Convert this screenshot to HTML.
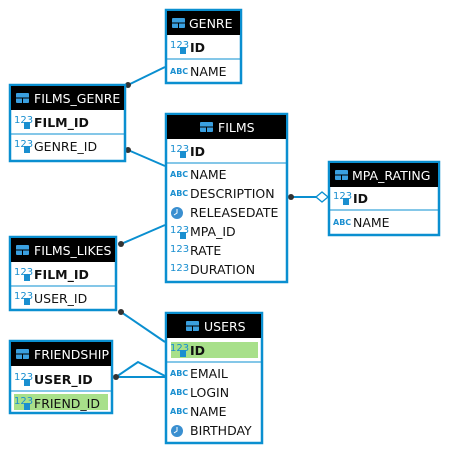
<!DOCTYPE html>
<html><head><meta charset="utf-8"><style>
html,body{margin:0;padding:0;background:#fff;}
svg{display:block;}
text{font-family:"DejaVu Sans","Liberation Sans",sans-serif;}
.t{font-size:12.5px;fill:#111;}
.b{font-weight:bold;}
.h{font-size:12.5px;fill:#fff;}
.n{font-size:10px;fill:#1a8fd0;}
.a{font-size:8px;fill:#1a8fd0;font-weight:bold;}
</style></head><body>
<svg width="450" height="454" viewBox="0 0 450 454" xmlns="http://www.w3.org/2000/svg">
<g stroke="#0a8fd0" stroke-width="2" fill="none">
<line x1="128" y1="85" x2="165" y2="67"/>
<line x1="128" y1="150" x2="165" y2="166"/>
<line x1="291" y1="197" x2="316" y2="197"/>
<line x1="121" y1="244" x2="165" y2="225"/>
<line x1="121" y1="312" x2="165" y2="342"/>
<polyline points="116,377 138,362 165,376"/>
<line x1="116" y1="377" x2="165" y2="377"/>
</g>
<polygon points="316,197 322,192 328,197 322,202" fill="#fff" stroke="#0a8fd0" stroke-width="1.3"/>
<g fill="#333">
<circle cx="128" cy="85" r="3"/><circle cx="128" cy="150" r="3"/><circle cx="291" cy="197" r="3"/>
<circle cx="121" cy="244" r="3"/><circle cx="121" cy="312" r="3"/><circle cx="116" cy="377" r="3"/>
</g>

<!-- GENRE -->
<rect x="166" y="10" width="75" height="73" fill="#fff" stroke="#0a8fd0" stroke-width="2.5"/>
<rect x="167" y="11" width="73" height="24" fill="#000"/>
<rect x="172" y="18" width="13" height="10" rx="1" fill="#3aa0e0"/><line x1="172" y1="23" x2="185" y2="23" stroke="#000"/><line x1="178.5" y1="23" x2="178.5" y2="28" stroke="#000"/>
<text x="189" y="28" class="h">GENRE</text>
<line x1="167" y1="59" x2="240" y2="59" stroke="#0a8fd0"/>
<text x="170" y="48" class="n">123</text><rect x="180" y="47" width="6" height="7" fill="#1a8fd0"/>
<text x="190" y="52" class="t b">ID</text>
<text x="170" y="74" class="a">ABC</text><text x="190" y="76" class="t">NAME</text>

<!-- FILMS_GENRE -->
<rect x="10" y="85" width="115" height="76" fill="#fff" stroke="#0a8fd0" stroke-width="2.5"/>
<rect x="11" y="86" width="113" height="24" fill="#000"/>
<rect x="16" y="93" width="13" height="10" rx="1" fill="#3aa0e0"/><line x1="16" y1="98" x2="29" y2="98" stroke="#000"/><line x1="22.5" y1="98" x2="22.5" y2="103" stroke="#000"/>
<text x="34" y="103" class="h">FILMS_GENRE</text>
<line x1="11" y1="134" x2="124" y2="134" stroke="#0a8fd0"/>
<text x="14" y="123" class="n">123</text><rect x="24" y="122" width="6" height="7" fill="#1a8fd0"/>
<text x="34" y="127" class="t b">FILM_ID</text>
<text x="14" y="147" class="n">123</text><rect x="24" y="146" width="6" height="7" fill="#1a8fd0"/>
<text x="34" y="151" class="t">GENRE_ID</text>

<!-- FILMS -->
<rect x="166" y="114" width="121" height="168" fill="#fff" stroke="#0a8fd0" stroke-width="2.5"/>
<rect x="167" y="115" width="119" height="24" fill="#000"/>
<rect x="200" y="122" width="13" height="10" rx="1" fill="#3aa0e0"/><line x1="200" y1="127" x2="213" y2="127" stroke="#000"/><line x1="206.5" y1="127" x2="206.5" y2="132" stroke="#000"/>
<text x="218" y="132" class="h">FILMS</text>
<line x1="167" y1="163" x2="286" y2="163" stroke="#0a8fd0"/>
<text x="170" y="152" class="n">123</text><rect x="180" y="151" width="6" height="7" fill="#1a8fd0"/>
<text x="190" y="156" class="t b">ID</text>
<text x="170" y="177" class="a">ABC</text><text x="190" y="179" class="t">NAME</text>
<text x="170" y="196" class="a">ABC</text><text x="190" y="198" class="t">DESCRIPTION</text>
<circle cx="177" cy="213" r="6" fill="#3a8fd0"/><polyline points="177,209 177,213 174,215" fill="none" stroke="#fff" stroke-width="1"/>
<text x="190" y="217" class="t">RELEASEDATE</text>
<text x="170" y="233" class="n">123</text><rect x="180" y="232" width="6" height="7" fill="#1a8fd0"/>
<text x="190" y="236" class="t">MPA_ID</text>
<text x="170" y="252" class="n">123</text><text x="190" y="255" class="t">RATE</text>
<text x="170" y="271" class="n">123</text><text x="190" y="274" class="t">DURATION</text>

<!-- MPA_RATING -->
<rect x="329" y="162" width="110" height="73" fill="#fff" stroke="#0a8fd0" stroke-width="2.5"/>
<rect x="330" y="163" width="108" height="24" fill="#000"/>
<rect x="335" y="170" width="13" height="10" rx="1" fill="#3aa0e0"/><line x1="335" y1="175" x2="348" y2="175" stroke="#000"/><line x1="341.5" y1="175" x2="341.5" y2="180" stroke="#000"/>
<text x="352" y="180" class="h">MPA_RATING</text>
<line x1="330" y1="210" x2="438" y2="210" stroke="#0a8fd0"/>
<text x="333" y="199" class="n">123</text><rect x="343" y="198" width="6" height="7" fill="#1a8fd0"/>
<text x="353" y="203" class="t b">ID</text>
<text x="333" y="225" class="a">ABC</text><text x="353" y="227" class="t">NAME</text>

<!-- FILMS_LIKES -->
<rect x="10" y="237" width="106" height="73" fill="#fff" stroke="#0a8fd0" stroke-width="2.5"/>
<rect x="11" y="238" width="104" height="24" fill="#000"/>
<rect x="16" y="245" width="13" height="10" rx="1" fill="#3aa0e0"/><line x1="16" y1="250" x2="29" y2="250" stroke="#000"/><line x1="22.5" y1="250" x2="22.5" y2="255" stroke="#000"/>
<text x="34" y="255" class="h">FILMS_LIKES</text>
<line x1="11" y1="286" x2="115" y2="286" stroke="#0a8fd0"/>
<text x="14" y="275" class="n">123</text><rect x="24" y="274" width="6" height="7" fill="#1a8fd0"/>
<text x="34" y="279" class="t b">FILM_ID</text>
<text x="14" y="299" class="n">123</text><rect x="24" y="298" width="6" height="7" fill="#1a8fd0"/>
<text x="34" y="303" class="t">USER_ID</text>

<!-- USERS -->
<rect x="166" y="313" width="96" height="130" fill="#fff" stroke="#0a8fd0" stroke-width="2.5"/>
<rect x="167" y="314" width="94" height="24" fill="#000"/>
<rect x="186" y="321" width="13" height="10" rx="1" fill="#3aa0e0"/><line x1="186" y1="326" x2="199" y2="326" stroke="#000"/><line x1="192.5" y1="326" x2="192.5" y2="331" stroke="#000"/>
<text x="204" y="331" class="h">USERS</text>
<rect x="171" y="342" width="87" height="16" fill="#a8e08a"/>
<line x1="167" y1="362" x2="261" y2="362" stroke="#0a8fd0"/>
<text x="170" y="351" class="n">123</text><rect x="180" y="350" width="6" height="7" fill="#1a8fd0"/>
<text x="190" y="355" class="t b">ID</text>
<text x="170" y="376" class="a">ABC</text><text x="190" y="378" class="t">EMAIL</text>
<text x="170" y="395" class="a">ABC</text><text x="190" y="397" class="t">LOGIN</text>
<text x="170" y="414" class="a">ABC</text><text x="190" y="416" class="t">NAME</text>
<circle cx="177" cy="431" r="6" fill="#3a8fd0"/><polyline points="177,427 177,431 174,433" fill="none" stroke="#fff" stroke-width="1"/>
<text x="190" y="435" class="t">BIRTHDAY</text>

<!-- FRIENDSHIP -->
<rect x="10" y="341" width="102" height="72" fill="#fff" stroke="#0a8fd0" stroke-width="2.5"/>
<rect x="11" y="342" width="100" height="24" fill="#000"/>
<rect x="16" y="349" width="13" height="10" rx="1" fill="#3aa0e0"/><line x1="16" y1="354" x2="29" y2="354" stroke="#000"/><line x1="22.5" y1="354" x2="22.5" y2="359" stroke="#000"/>
<text x="34" y="359" class="h">FRIENDSHIP</text>
<line x1="11" y1="391" x2="111" y2="391" stroke="#0a8fd0"/>
<text x="14" y="380" class="n">123</text><rect x="24" y="379" width="6" height="7" fill="#1a8fd0"/>
<text x="34" y="384" class="t b">USER_ID</text>
<rect x="14" y="394" width="94" height="16" fill="#a8e08a"/>
<text x="14" y="404" class="n">123</text><rect x="24" y="403" width="6" height="7" fill="#1a8fd0"/>
<text x="34" y="408" class="t">FRIEND_ID</text>
</svg>
</body></html>
